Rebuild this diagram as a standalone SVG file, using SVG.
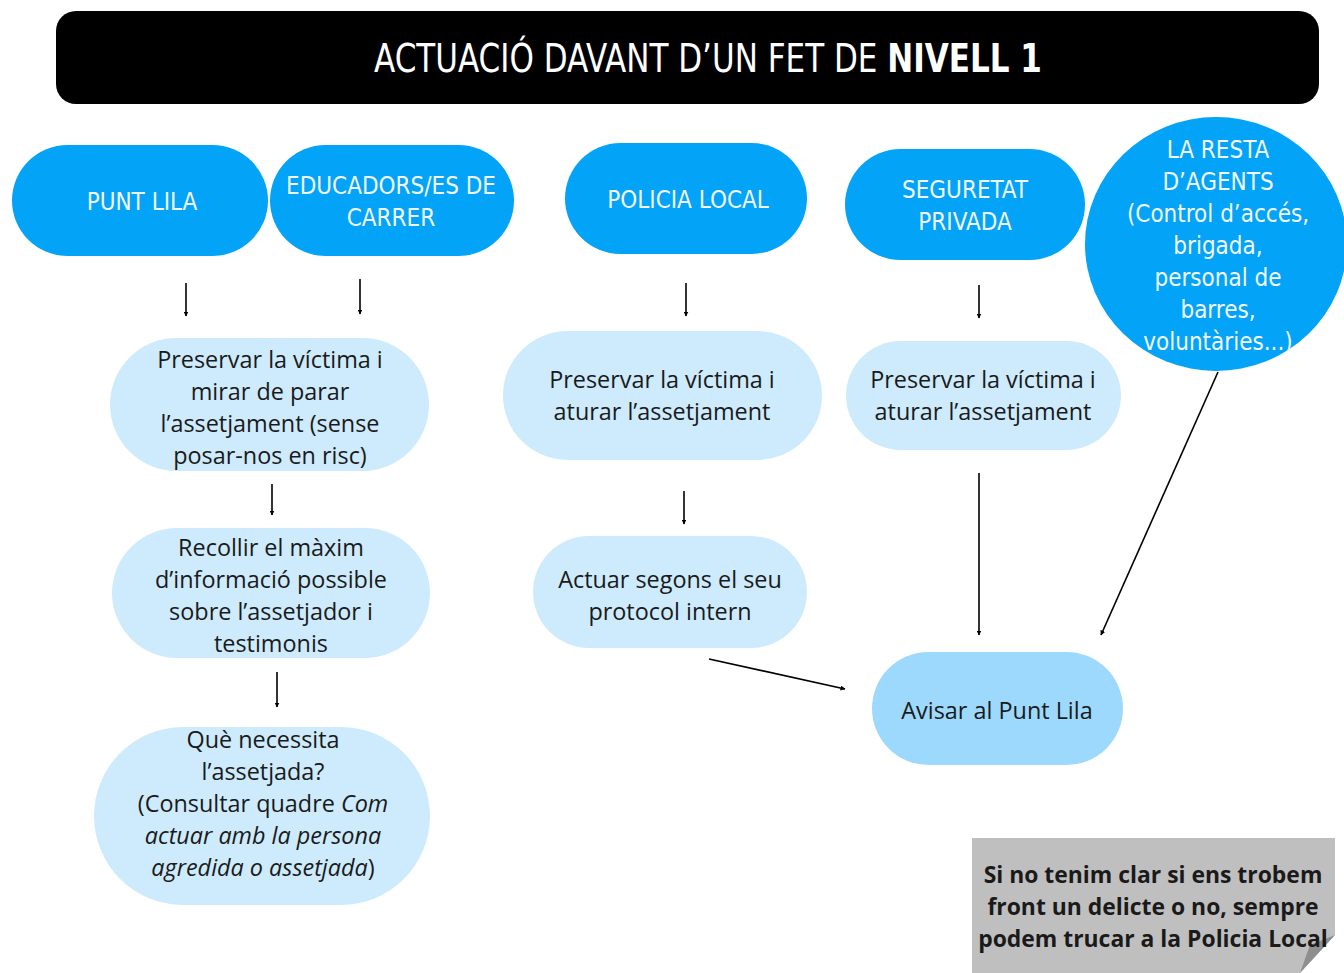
<svg xmlns="http://www.w3.org/2000/svg" width="1344" height="973" viewBox="0 0 1344 973">
<style>
.hdr{fill:#03A3F7}
.lt{fill:#CDEBFD}
.av{fill:#9CD9FC}
.ht{font-family:"DejaVu Sans Condensed","Liberation Sans",sans-serif;font-size:24px;fill:#F2F8FF;text-anchor:middle}
.bt{font-family:"Open Sans","Liberation Sans",sans-serif;font-size:23.4px;fill:#1a1a1a;text-anchor:middle}
.nt{font-family:"Open Sans","Liberation Sans",sans-serif;font-size:22.9px;font-weight:bold;fill:#1a1a1a;text-anchor:middle}
.tt{font-family:"DejaVu Sans Condensed","Liberation Sans",sans-serif;font-size:34.5px;fill:#fff;text-anchor:middle}
.c{stroke:#000;stroke-width:1.6;fill:none;marker-end:url(#ah)}
</style>
<defs>
<marker id="ah" viewBox="0 0 10 10" refX="9" refY="5" markerWidth="5" markerHeight="5" orient="auto" markerUnits="userSpaceOnUse"><path d="M0,0 L10,5 L0,10 Z" fill="#000"/></marker>
</defs>
<rect width="1344" height="973" fill="#fff"/>
<g id="title">
<rect x="56" y="11" width="1263" height="93" rx="20" fill="#000"/>
<text class="tt" x="708" y="0" transform="translate(0,72) scale(1,1.15)">ACTUACIÓ DAVANT D’UN FET DE <tspan font-weight="bold">NIVELL 1</tspan></text>
</g>
<g id="punt-lila">
<rect class="hdr" x="12" y="145" width="256" height="111" rx="55.5"/>
<text class="ht" x="142" y="210">PUNT LILA</text>
</g>
<g id="educadors">
<rect class="hdr" x="270" y="145" width="244" height="111" rx="55.5"/>
<text class="ht" x="391" y="194">EDUCADORS/ES DE</text>
<text class="ht" x="391" y="226">CARRER</text>
</g>
<g id="policia-local">
<rect class="hdr" x="565" y="143" width="242" height="111" rx="55.5"/>
<text class="ht" x="688" y="208">POLICIA LOCAL</text>
</g>
<g id="seguretat-privada">
<rect class="hdr" x="845" y="149" width="240" height="111" rx="55.5"/>
<text class="ht" x="965" y="198">SEGURETAT</text>
<text class="ht" x="965" y="230">PRIVADA</text>
</g>
<g id="resta-agents">
<ellipse class="hdr" cx="1216" cy="244" rx="131" ry="127"/>
<text class="ht" x="1218" y="158">LA RESTA</text>
<text class="ht" x="1218" y="190">D’AGENTS</text>
<text class="ht" x="1218" y="222">(Control d’accés,</text>
<text class="ht" x="1218" y="254">brigada,</text>
<text class="ht" x="1218" y="286">personal de</text>
<text class="ht" x="1218" y="318">barres,</text>
<text class="ht" x="1218" y="350">voluntàries...)</text>
</g>
<g id="preservar-1">
<rect class="lt" x="110" y="338" width="319" height="133" rx="66.5"/>
<text class="bt" x="270" y="368">Preservar la víctima i</text>
<text class="bt" x="270" y="400">mirar de parar</text>
<text class="bt" x="270" y="432">l’assetjament (sense</text>
<text class="bt" x="270" y="464">posar-nos en risc)</text>
</g>
<g id="recollir">
<rect class="lt" x="112" y="528" width="318" height="130" rx="65"/>
<text class="bt" x="271" y="556">Recollir el màxim</text>
<text class="bt" x="271" y="588">d’informació possible</text>
<text class="bt" x="271" y="620">sobre l’assetjador i</text>
<text class="bt" x="271" y="652">testimonis</text>
</g>
<g id="que-necessita">
<rect class="lt" x="94" y="727" width="336" height="178" rx="89"/>
<text class="bt" x="263" y="748">Què necessita</text>
<text class="bt" x="263" y="780">l’assetjada?</text>
<text class="bt" x="263" y="812">(Consultar quadre <tspan font-style="italic">Com</tspan></text>
<text class="bt" x="263" y="844" font-style="italic">actuar amb la persona</text>
<text class="bt" x="263" y="876"><tspan font-style="italic">agredida o assetjada</tspan>)</text>
</g>
<g id="preservar-2">
<rect class="lt" x="503" y="331" width="319" height="129" rx="64.5"/>
<text class="bt" x="662" y="388">Preservar la víctima i</text>
<text class="bt" x="662" y="420">aturar l’assetjament</text>
</g>
<g id="actuar">
<rect class="lt" x="533" y="536" width="274" height="112" rx="56"/>
<text class="bt" x="670" y="588">Actuar segons el seu</text>
<text class="bt" x="670" y="620">protocol intern</text>
</g>
<g id="preservar-3">
<rect class="lt" x="846" y="341" width="275" height="109" rx="54.5"/>
<text class="bt" x="983" y="388">Preservar la víctima i</text>
<text class="bt" x="983" y="420">aturar l’assetjament</text>
</g>
<g id="avisar">
<rect class="av" x="872" y="652" width="251" height="113" rx="56.5"/>
<text class="bt" x="997" y="719">Avisar al Punt Lila</text>
</g>
<g id="nota">
<path d="M972,838 H1335 V935 L1300,973 H972 Z" fill="#C0BFC0"/>
<path d="M1300,973 L1335,935 L1310,945 Z" fill="#8E8E8E"/>
<text class="nt" x="1153" y="883">Si no tenim clar si ens trobem</text>
<text class="nt" x="1153" y="915">front un delicte o no, sempre</text>
<text class="nt" x="1153" y="947">podem trucar a la Policia Local</text>
</g>
<g id="connectors">
<line class="c" x1="186" y1="283" x2="186" y2="316"/>
<line class="c" x1="360" y1="279" x2="360" y2="314"/>
<line class="c" x1="686" y1="283" x2="686" y2="316"/>
<line class="c" x1="979" y1="285" x2="979" y2="318"/>
<line class="c" x1="272" y1="484" x2="272" y2="515"/>
<line class="c" x1="277" y1="672" x2="277" y2="707"/>
<line class="c" x1="684" y1="491" x2="684" y2="524"/>
<line class="c" x1="979" y1="473" x2="979" y2="635"/>
<line class="c" x1="1218" y1="372" x2="1101" y2="635"/>
<line class="c" x1="709" y1="659" x2="845" y2="689"/>
</g>
</svg>
